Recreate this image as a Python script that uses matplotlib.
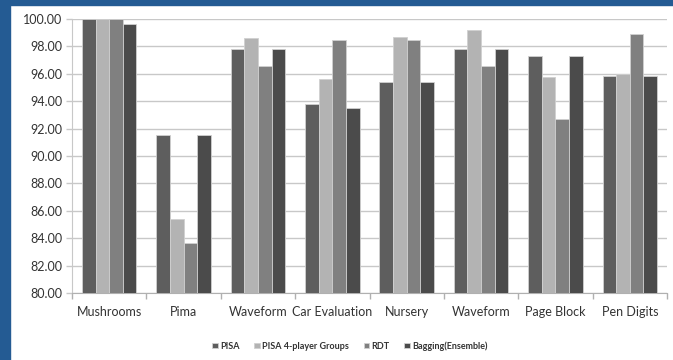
import matplotlib
matplotlib.use("Agg")
import matplotlib.pyplot as plt
from matplotlib.patches import Rectangle
import numpy as np

plt.rcParams['font.family'] = ['Lato', 'DejaVu Sans']

datasets = ["Mushrooms", "Pima", "Waveform", "Car Evaluation", "Nursery",
            "Waveform", "Page Block", "Pen Digits"]
series_names = ["PISA", "PISA 4-player Groups", "RDT", "Bagging(Ensemble)"]
pisa = [100.0, 91.55, 97.8, 93.8, 95.4, 97.8, 97.3, 95.86]
pisa_groups = [100.0, 85.38, 98.6, 95.6, 98.7, 99.2, 95.8, 96.0]
rdt = [100.0, 83.63, 96.57, 98.5, 98.5, 96.57, 92.7, 98.9]
bagging = [99.6, 91.55, 97.8, 93.5, 95.4, 97.8, 97.3, 95.86]
y_ticks = [80, 82, 84, 86, 88, 90, 92, 94, 96, 98, 100]

colors = ["#5e5e5e", "#b3b3b3", "#808080", "#4b4b4b"]

W, H = 673, 360
fig = plt.figure(figsize=(W / 100, H / 100), dpi=100)
fig.patch.set_facecolor("white")

# blue frame on top and left edges
blue = "#245b93"
fig.patches.append(Rectangle((0, 1 - 5 / H), 1, 5 / H, transform=fig.transFigure,
                             color=blue, zorder=0))
fig.patches.append(Rectangle((0, 0), 10 / W, 1, transform=fig.transFigure,
                             color=blue, zorder=0))

ax_l, ax_r, ax_t, ax_b = 72, 667, 19, 293
ax = fig.add_axes([ax_l / W, 1 - ax_b / H, (ax_r - ax_l) / W, (ax_b - ax_t) / H])

x = np.arange(len(datasets))
bw = 0.183
for i, (vals, c, name) in enumerate(zip([pisa, pisa_groups, rdt, bagging], colors, series_names)):
    ax.bar(x + (i - 1.5) * bw, np.array(vals) - 80, bottom=80, width=bw, color=c,
           edgecolor="#d0d0d0", linewidth=0.6, label=name, zorder=3)

ax.set_xlim(-0.5, len(datasets) - 0.5)
ax.set_ylim(80, 100)
ax.set_yticks(y_ticks)
ax.set_yticklabels([f"{v:.2f}" for v in y_ticks], fontsize=9, color="#333333")
ax.yaxis.grid(True, color="#c8c8c8", linewidth=1.0, zorder=0)
ax.set_axisbelow(True)

ax.set_xticks(x)
ax.set_xticklabels(datasets, fontsize=9, color="#333333")
ax.tick_params(axis="x", length=0, pad=9)
ax.set_xticks(np.arange(len(datasets) + 1) - 0.5, minor=True)
ax.tick_params(axis="x", which="minor", length=4, color="#b0b0b0", width=1)
ax.tick_params(axis="y", length=4, color="#c8c8c8", width=1, pad=3)

for s in ["top", "right"]:
    ax.spines[s].set_visible(False)
ax.spines["left"].set_color("#c8c8c8")
ax.spines["bottom"].set_color("#b0b0b0")

leg = fig.legend(loc="center", bbox_to_anchor=(350 / W, 1 - 346 / H), ncol=4,
                 frameon=False, fontsize=6.5, handlelength=0.6, handleheight=0.6,
                 handletextpad=0.3, columnspacing=1.6)
for t in leg.get_texts():
    t.set_color("#333333")
    t.set_fontweight("bold")

fig.savefig("out.png", dpi=100, facecolor=fig.get_facecolor())
